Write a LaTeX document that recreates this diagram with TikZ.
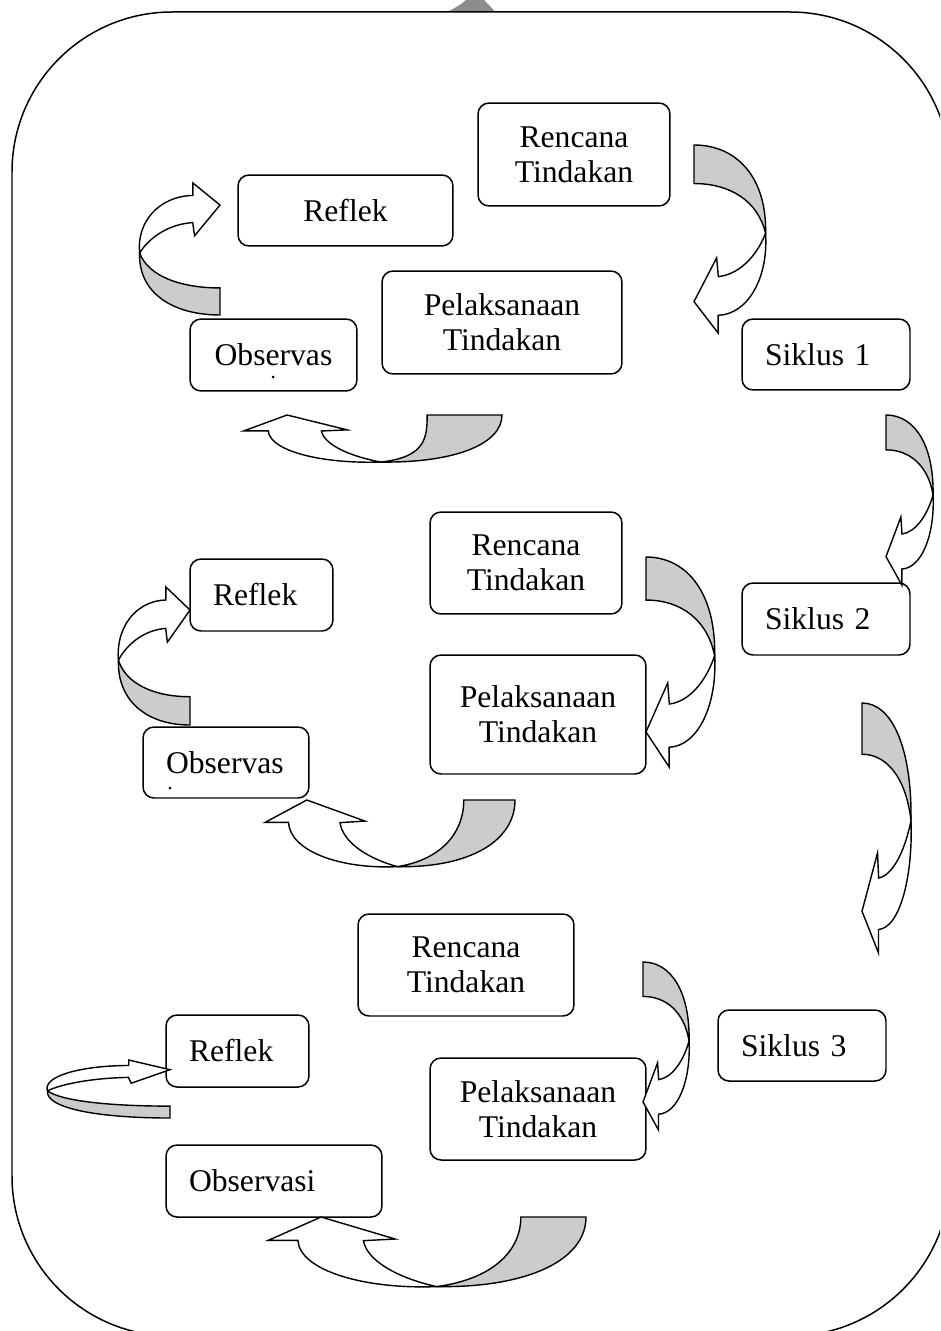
\documentclass[tikz,border=0pt]{standalone}
\usepackage{fontspec}
\setmainfont{Liberation Serif}
\usepackage{tikz}
\definecolor{bandgrey}{HTML}{CCCCCC}
\definecolor{blobgrey}{HTML}{8C8C8C}
\newcommand{\stagefont}{\fontsize{18}{20}\selectfont}
\tikzstyle{stage}=[draw, rounded corners=0.22cm, line width=0.85pt, align=center, font=\stagefont, inner sep=0pt]
\tikzstyle{lstage}=[stage, align=left, inner xsep=0.46cm]
\tikzstyle{bandback}=[draw, fill=bandgrey, line width=0.8pt]
\tikzstyle{bandfront}=[draw, fill=white, line width=0.8pt]
\tikzstyle{frame}=[draw, line width=0.85pt, rounded corners=3.2cm]

% curved block arrow in a unit box: tail at bottom right, head at top pointing right
\newcommand{\curlarrow}[2][0.205]{%
  \begin{scope}[#2]
    \filldraw[bandback] (1,0) .. controls (0.4,0) and (0,0.18) .. (0.02,0.47)
      .. controls (0.12,0.3) and (0.5,#1) .. (1,#1) -- cycle;
    \filldraw[bandfront] (0.02,0.47) .. controls (-0.02,0.7) and (0.25,0.9) .. (0.67,0.906)
      -- (0.67,1) -- (1,0.833) -- (0.69,0.6) -- (0.667,0.7)
      .. controls (0.4,0.69) and (0.15,0.6) .. (0.02,0.47) -- cycle;
  \end{scope}}

\begin{document}
\begin{tikzpicture}[x=0.02cm, y=-0.02cm]
    \useasboundingbox (0,0) rectangle (940,1331);
    \clip (0,0) rectangle (940,1331);
    \fill[blobgrey] (447,12) .. controls (455,8) and (462,4) .. (466,0) -- (484,0)
        .. controls (488,4) and (492,8) .. (495,12) -- cycle;
    \draw[frame] (12,12) rectangle (950,1336);

    % siklus 1
    \node[stage, minimum width=3.84cm, minimum height=2.06cm] (ren1) at (574,154.5) {Rencana\\Tindakan};
    \node[stage, minimum width=4.30cm, minimum height=1.42cm] (ref1) at (345.5,210.5) {Reflek};
    \node[stage, minimum width=4.80cm, minimum height=2.06cm] (pel1) at (502,322.5) {Pelaksanaan\\Tindakan};
    \node[stage, minimum width=3.34cm, minimum height=1.44cm] (obs1) at (273.5,355) {Observas};
    \fill (273,377) circle[radius=0.03cm];
    \node[lstage, text width=2.44cm, minimum height=1.42cm] (sik1) at (826,354.5) {Siklus 1};
    \curlarrow{shift={(767,145)}, xscale=-73, yscale=188}
    \curlarrow[0.29]{shift={(502,463)}, rotate=90, xscale=48, yscale=-258}
    \curlarrow{shift={(138,315)}, xscale=82, yscale=-132}
    \curlarrow{shift={(934,415)}, xscale=-48, yscale=170}

    % siklus 2
    \node[stage, minimum width=3.84cm, minimum height=2.04cm] (ren2) at (526,563) {Rencana\\Tindakan};
    \node[lstage, text width=1.94cm, minimum height=1.44cm] (ref2) at (261.5,595) {Reflek};
    \node[stage, minimum width=4.32cm, minimum height=2.38cm] (pel2) at (538,714.5) {Pelaksanaan\\Tindakan};
    \node[lstage, text width=2.40cm, minimum height=1.42cm] (obs2) at (226,762.5) {Observas};
    \fill (170,788) circle[radius=0.03cm];
    \node[lstage, text width=2.44cm, minimum height=1.44cm] (sik2) at (826,619) {Siklus 2};
    \curlarrow{shift={(716,557)}, xscale=-70, yscale=210}
    \curlarrow{shift={(515,868)}, rotate=90, xscale=68, yscale=-250}
    \curlarrow{shift={(117,725)}, xscale=73, yscale=-138}
    \curlarrow{shift={(912,703)}, xscale=-50, yscale=250}

    % siklus 3
    \node[stage, minimum width=4.32cm, minimum height=2.04cm] (ren3) at (466,965) {Rencana\\Tindakan};
    \node[lstage, text width=1.94cm, minimum height=1.44cm] (ref3) at (237.5,1051) {Reflek};
    \node[stage, minimum width=4.32cm, minimum height=2.04cm] (pel3) at (538,1109) {Pelaksanaan\\Tindakan};
    \node[lstage, text width=3.40cm, minimum height=1.44cm] (obs3) at (274,1181) {Observasi};
    \node[lstage, text width=2.44cm, minimum height=1.42cm] (sik3) at (802,1045.5) {Siklus 3};
    \curlarrow{shift={(690,962)}, xscale=-47, yscale=168}
    \curlarrow{shift={(586,1288)}, rotate=90, xscale=71, yscale=-318}
    \curlarrow{shift={(45,1118)}, xscale=125, yscale=-58}
\end{tikzpicture}
\end{document}
